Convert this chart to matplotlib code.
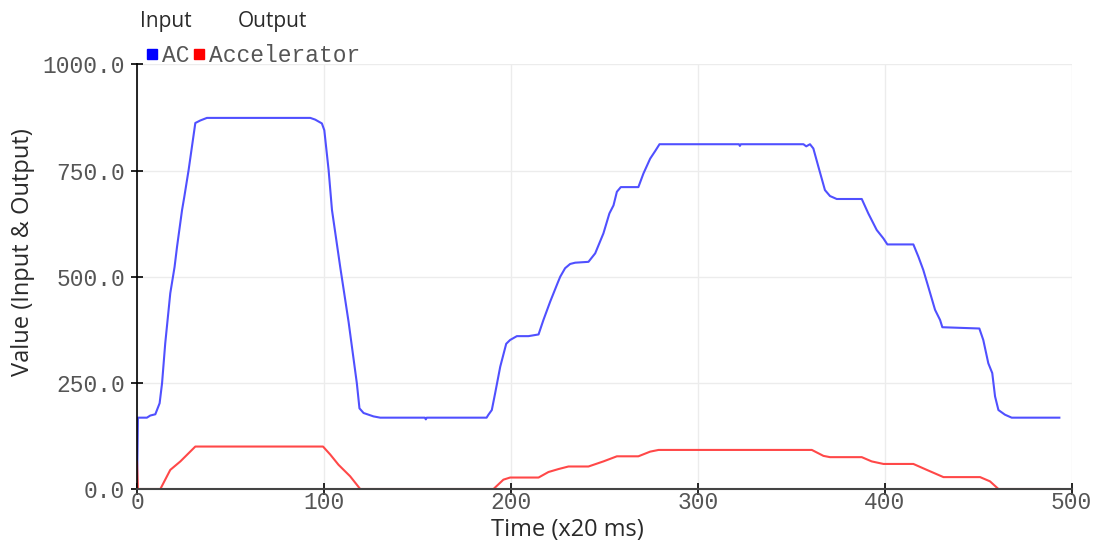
import numpy as np
import matplotlib
matplotlib.use("Agg")
import matplotlib.pyplot as plt
from matplotlib.lines import Line2D

# AC input signal, sampled every 20 ms
ac_t = [0, 0.5, 5.3, 7.1, 9.8, 12.1, 13.4, 15.1, 17.8, 20.1, 21.4, 24.1, 25.3, 27.6, 31.2, 33.9, 37.4,
        92.7, 95.3, 98.9, 100.2, 102.5, 104.3, 108.7, 113.2, 117.6, 119, 121.2, 126.5, 130.1,
        154, 154.5, 155, 187, 188, 189.8, 191.6, 194.3, 197.5, 199.6, 203.2, 209.4, 214.8, 217.4,
        221, 224.9, 226.4, 229, 231.7, 234.4, 241.5, 245.1, 249.5, 252.7, 254.9, 256.7, 258.8,
        268.2, 270.9, 274.5, 277.2, 279.5, 322, 322.5, 323, 356.5, 358, 360, 361.8, 364.5, 368,
        370.7, 374.3, 387.7, 391.2, 395.7, 399.3, 401.4, 415.3, 418, 420.6, 423.3, 426.9, 429.6,
        430.8, 450.6, 452.7, 455.4, 457.5, 459, 460.8, 464.3, 467.9, 493.4]
ac_v = [0, 168, 168, 173, 176, 202, 249, 343, 461, 523, 570, 657, 688, 751, 862, 868, 874,
        874, 870, 861, 845, 751, 657, 523, 393, 249, 190, 179, 171, 168,
        168, 164, 168, 168, 175, 186, 226, 288, 342, 351, 360, 360, 364, 398,
        441, 484, 500, 520, 530, 533, 535, 555, 602, 649, 668, 700, 711,
        711, 743, 778, 796, 812, 812, 808, 812, 812, 807, 812, 802, 759, 704,
        690, 683, 683, 649, 610, 590, 576, 576, 547, 516, 476, 422, 398,
        381, 378, 351, 296, 273, 218, 186, 175, 168, 168]

# Accelerator output
acc_t = [0, 0.5, 12.5, 17.8, 23.2, 31.2, 99.5, 103.4, 107.8, 114, 119.4, 190.7, 196, 199.6,
         214.8, 220.1, 225.5, 230.8, 241.5, 249.5, 256.7, 268.2, 274.5, 279, 361, 367.2, 370.7,
         387.7, 393, 399.3, 415.3, 422.5, 431.4, 451, 456.3, 460.8, 493.4]
acc_v = [64, 0, 0, 45, 65, 100, 100, 81, 57, 30, 0, 0, 22, 27,
         27, 40, 47, 53, 53, 65, 77, 77, 88, 92, 92, 78, 75,
         75, 65, 59, 59, 45, 28, 28, 18, 0, 0]

xticks = [0, 100, 200, 300, 400, 500]
yticks = [0, 250, 500, 750, 1000]

W, H = 1100, 546
fig = plt.figure(figsize=(W / 100, H / 100), dpi=100)
ax = fig.add_axes([137 / W, 1 - 489 / H, (1071.7 - 137) / W, (489 - 64.4) / H])

mono = "Liberation Mono"
sans = {"family": "Open Sans", "color": "#2a2a2a"}

ax.plot(ac_t, ac_v, color="#5050ff", lw=1.5)
ax.plot(acc_t, acc_v, color="#ff4848", lw=1.5)

ax.set_xlim(0, 500)
ax.set_ylim(0, 1000)
ax.set_xticks(xticks)
ax.set_yticks(yticks)
ax.set_xticklabels([str(x) for x in xticks], family=mono, fontsize=16.5, color="#555555")
ax.set_yticklabels(["%.1f" % y for y in yticks], family=mono, fontsize=16.5, color="#555555")
ax.tick_params(axis="both", direction="inout", length=9, width=1.2)
ax.tick_params(axis="x", pad=-3)
ax.tick_params(axis="y", pad=4)

ax.grid(True, color="#ececec", lw=1)
ax.set_axisbelow(True)
for s in ["top", "right"]:
    ax.spines[s].set_visible(False)
ax.spines["left"].set_color("black")
ax.spines["left"].set_linewidth(1.2)
ax.spines["bottom"].set_color("#444444")
ax.spines["bottom"].set_linewidth(1.5)

fig.text(23 / W, 1 - 252.5 / H, "Value (Input & Output)", rotation=90, ha="center", va="center",
         fontsize=17, **sans)
fig.text(567.5 / W, 1 - 530 / H, "Time (x20 ms)", ha="center", va="center", fontsize=17, **sans)

# series legend with group captions above it
fig.text(166 / W, 1 - 22 / H, "Input", ha="center", va="center", fontsize=15, **sans)
fig.text(272.5 / W, 1 - 22 / H, "Output", ha="center", va="center", fontsize=15, **sans)
handles = [Line2D([], [], ls="none", marker="s", ms=7, color="#0000ff"),
           Line2D([], [], ls="none", marker="s", ms=7, color="#ff0000")]
fig.legend(handles, ["AC", "Accelerator"], ncol=2, loc="lower left",
           bbox_to_anchor=(146 / W, 1 - 67 / H), frameon=False, borderpad=0, borderaxespad=0,
           handlelength=0.5, handletextpad=0.19, columnspacing=0.18,
           prop={"family": mono, "size": 16.5}, labelcolor="#555555")

fig.savefig("out.png", dpi=100)
